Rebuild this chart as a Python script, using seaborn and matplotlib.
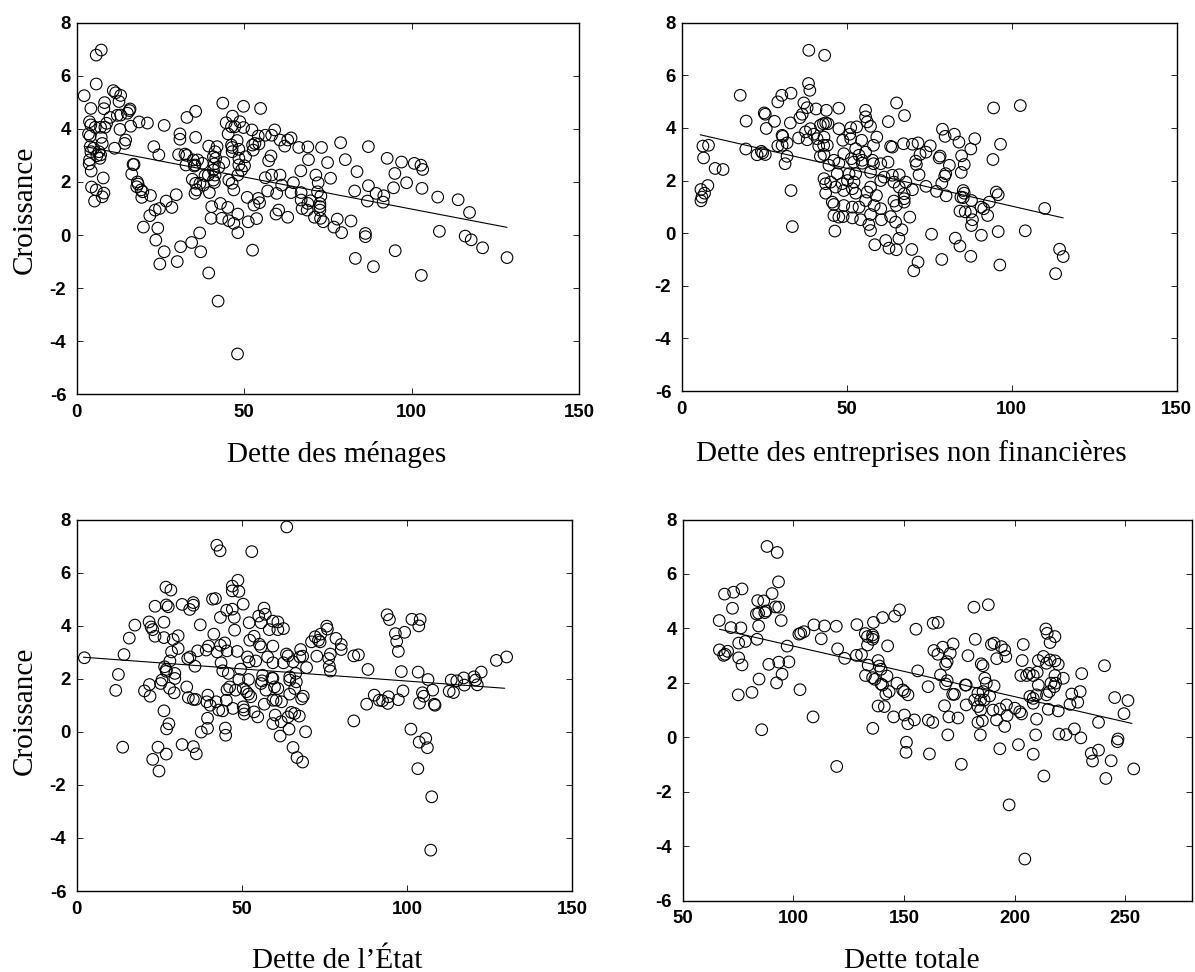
import matplotlib
matplotlib.use("Agg")
import matplotlib.pyplot as plt
from matplotlib.transforms import Affine2D
import pandas as pd
import seaborn as sns

menages_x = [2.2,7.3,5.8,5.8,10.9,11.6,13.1,12.6,8.3,8.1,4.2,15.9,15.7,15.1,13.1,12.1,9.9,3.8,18.6,21.1,4.2,16.1,8.9,8.4,7.1,5.5,12.9,3.5,4.0,7.3,14.6,14.3,7.6,4.0,11.3,5,4.2,6.6,6.0,7.1,6.9,3.8,3.7,4.3,7.9,4.4,5.8,8.1,7.6,5.3,16.8,17.1,16.4,18.1,18.3,17.9,19.2,19.7,19.4,22,23,24.5,26.1,29.7,26.7,24.7,23.4,28.4,21.8,19.9,24.2,23.6,26.1,24.8,30,31,34.3,36.7,37,39.4,42.2,48,32.9,35.5,30.8,30.8,35.5,30.4,32.3,32.8,32.6,34.8,36.1,35.3,35.1,37.5,34.5,35.5,36.8,35.8,35.3,37.8,38.3,39.3,39.6,39.4,41.9,41.3,40.8,41.5,41.1,40.8,41.3,40.8,41.1,40.3,42.9,40.1,43.3,45.1,45.4,46.9,48.1,48.1,51.2,53.7,52.5,43.6,49.8,54.9,46.5,44.6,48.7,46.2,47.2,49.8,52.3,45.2,47.9,54.2,56.3,58.2,59.1,60.7,64,63,62.1,66.3,69,73.1,78.8,87.1,52.5,53.2,54.4,52.7,46.2,46.4,46.4,48.4,48.4,50.4,48.4,50.1,49.2,48.1,43.9,42.4,45.4,46.4,46.9,58,57.3,56.3,58.2,60.7,61.2,64.7,57,59.7,64,66.9,69.2,74.9,80.2,83.7,75.8,71.4,72.1,71.9,72.9,67,67,69.8,69,67.3,68.8,72.6,72.6,72.6,71,72.8,73.6,54.2,54.6,52.9,50.9,59.5,60.3,63,77.8,76.8,79.1,81.9,83,87.1,86.8,89.4,91.7,91.5,94.6,95,92.7,97,98.5,100.8,102.8,103.3,103.1,107.8,113.9,117.3,108.3,116,117.8,121.2,128.5,102.9,95.1,88.6,83.2,86.2,86.2]
menages_y = [5.25,6.97,6.78,5.69,5.44,5.36,5.26,5.03,4.99,4.76,4.77,4.75,4.69,4.59,4.52,4.51,4.43,4.27,4.26,4.22,4.15,4.10,4.21,4.06,4.06,4.06,3.98,3.81,3.73,3.68,3.58,3.45,3.45,3.33,3.27,3.27,3.14,3.14,2.99,3.02,2.89,2.83,2.68,2.41,2.15,1.81,1.70,1.58,1.44,1.28,2.66,2.66,2.30,2.0,1.92,1.82,1.70,1.63,1.42,1.49,3.33,3.02,4.13,1.52,1.28,1.0,.94,1.04,.73,.3,.26,-.19,-.63,-1.09,-1.0,-.44,-.28,.08,-.63,-1.43,-2.49,-4.48,4.43,4.66,3.81,3.61,3.68,3.03,3.05,3.0,2.64,2.83,2.83,2.64,2.6,2.7,2.1,1.95,1.95,1.7,1.57,1.88,2.24,2.26,1.6,3.35,3.33,3.14,2.95,2.89,2.68,2.45,2.26,2.07,1.98,1.07,1.19,.63,.63,1.04,.54,.44,.79,.09,.5,.62,-.57,4.97,4.85,4.77,4.48,4.23,4.27,4.08,4.08,4.05,3.96,3.81,3.56,3.73,3.76,3.76,3.96,3.58,3.66,3.58,3.35,3.30,3.32,3.3,3.48,3.33,3.39,3.45,3.43,3.2,3.39,3.3,3.14,3.23,2.89,2.95,2.64,2.61,2.45,2.26,2.73,2.55,2.07,1.95,1.70,2.98,2.8,2.16,2.26,2.26,1.88,1.97,1.66,1.57,1.6,2.42,2.84,2.73,2.84,2.39,2.14,2.26,1.97,1.63,1.47,1.6,1.32,1.29,1.19,1.0,.94,1.19,1.07,.94,.67,.63,.5,1.38,1.22,1.13,1.42,.79,.94,.67,.6,.3,.09,.53,1.66,1.86,1.28,1.57,1.48,1.24,1.78,2.32,2.89,2.75,1.97,2.7,2.63,2.47,1.76,1.43,1.33,.85,.14,-.04,-.18,-.48,-.85,-1.52,-.59,-1.19,-.88,.06,-.06]
menages_fit_x = [2.2, 128.5]
menages_fit_y = [3.34, 0.29]

entreprises_x = [38.5,43.3,38.4,38.8,17.7,33.1,30.3,29.1,37,38,40.7,43.8,47.6,25,25.3,36.5,35.8,19.5,28.1,32.9,25.6,42,42.9,43.6,44.3,47.6,39,37.5,38,35.4,40,30.4,30.6,30.4,29.1,31.9,6.4,8.1,6.6,10.1,12.5,7.9,5.8,6.9,6.1,5.8,19.4,22.8,24.1,24.5,25.3,31.9,31.3,33.1,33.5,41,43.1,41.5,43,44.1,42,43.1,44.6,46.1,47.6,49.1,51.2,53,55.7,55.7,56.2,57.2,59.1,48.8,50.9,51.2,54.5,58.1,52.7,55.7,51.4,52.1,53.7,54.7,54.7,57.8,58.1,60.3,62.5,62.6,65.1,67.5,63.3,63.8,67.2,69.9,71.6,75.3,74,72.2,70.9,71.1,71.9,50.7,52.7,57.2,47.1,43.1,43.6,45.1,43.6,46.6,48.6,50.2,52.2,49.1,51.7,52.7,57.2,56.2,59,60.3,61.3,63.8,65.9,64.3,67.9,65.9,67.4,67.4,67.4,69.9,64.3,65,45.6,46.1,49.1,51.7,53.7,55.7,58.3,60.3,46.1,47.6,48.9,51.7,54.2,57.2,60.5,63.3,64.8,69.1,56.7,57.2,46.4,66.7,61.8,58.5,62.8,65,65.8,69.7,71.6,70.3,75.7,78.8,82.9,84.3,87.6,90.8,95.9,96.4,104.1,114.5,115.6,113.3,110,102.6,94.5,96.6,94.3,88.8,87.6,84,82.6,79,79.8,84.8,85.6,84.7,78.3,78,81.1,80,79.7,78.8,74,77.2,80.1,85.3,85.6,84.6,85.3,87.8,84.3,85.9,87.6,88.1,87.8,90.7,91.5,93.2,92.7,95.3,95.9]
entreprises_y = [6.95,6.76,5.69,5.43,5.24,5.32,5.24,4.99,4.95,4.77,4.72,4.67,4.75,4.57,4.52,4.52,4.39,4.26,4.25,4.19,3.98,4.1,4.16,4.19,4.16,3.97,3.97,3.85,3.55,3.62,3.76,3.72,3.68,3.34,3.32,3.43,3.31,3.34,2.86,2.46,2.42,1.81,1.66,1.52,1.37,1.23,3.2,2.98,3.11,3.05,2.99,2.92,2.64,1.62,.25,3.59,3.65,3.31,3.34,3.34,2.92,2.99,2.58,2.77,2.66,3.02,4.01,4.04,4.67,4.42,4.23,4.06,3.65,3.53,3.76,3.59,3.53,3.34,3.21,3.08,2.83,2.7,2.96,2.77,2.66,2.77,2.64,2.64,2.7,4.24,4.95,4.47,3.3,3.27,3.4,3.38,3.43,3.32,3.08,2.99,2.74,2.61,2.22,2.26,2.26,2.32,2.26,2.07,1.88,1.94,1.52,1.75,1.88,2,1.94,1.62,1.69,1.52,1.75,1.56,1.43,2.0,2.13,2.2,2.22,1.94,1.94,1.75,1.5,1.31,1.18,1.65,1.22,1.05,1.18,1.09,1.05,.99,.99,1.24,1.05,.93,.67,.61,.63,.58,.51,.71,.51,.63,.42,.61,.33,.1,.08,.13,-.28,-.44,-.57,-.63,-.2,-.62,-1.1,-1.43,-.04,-1,-.19,-.49,-.88,-.08,.06,-1.21,.09,-.61,-.89,-1.54,.94,4.85,4.76,3.38,2.8,3.59,3.2,3.46,3.76,3.95,3.68,2.94,2.61,2.31,2.93,2.86,2.58,2.26,2.17,1.9,1.78,1.59,1.42,1.62,1.52,1.37,1.35,1.24,.84,.81,.8,.51,.29,.99,.93,1.18,.67,1.56,1.46]
entreprises_fit_x = [5.6, 115.6]
entreprises_fit_y = [3.74, 0.58]

etat_x = [2.3,63.6,42.4,43.4,53,48.8,47.1,47.1,49.1,27,28.5,50.4,41.1,42,23.7,27.1,27.7,31.9,35.3,35.3,34.2,45.4,47.1,43.5,47.7,56.7,57.1,55.1,52.2,55.8,59.4,60.9,58.3,60.9,62.6,21.9,22.5,23,26.4,17.6,15.9,14.3,23.7,26.4,29.2,30.7,37.4,41.5,47.8,53.7,52.4,59.4,55.3,55.8,44.8,43.5,39.9,39.2,36.6,42.5,45.5,48.6,30.7,28.7,28.2,33.6,34.3,35.8,26.6,27.1,27.1,29.7,29.7,25.8,25.4,22,28.1,29.5,20.5,22.2,12.6,11.8,33.3,33.8,35.3,36,39.7,39.4,40.4,42.2,43,44.2,39.6,39.6,37.7,26.4,27.9,27.2,31.9,35.3,36.2,24.6,27.1,23,24.9,13.9,45,45.1,43.7,44.2,45.9,49.6,49.1,52,51.7,52.2,54.2,57.8,59.4,63.5,64,62.6,65.5,67.8,68.4,67.6,69.6,66.3,64.5,56.3,56.1,59.1,59.4,59.9,60.9,55.8,57.3,64.5,66.5,66,64.5,68.6,68.1,45.5,46.3,48.1,50.4,51.4,52,52.7,45.3,47.3,50.4,50.7,50.7,53.7,54.8,56.8,59.4,60.4,62,60.1,59.4,61.9,64.3,61.6,69.3,64,65,66,67.4,65.5,66.7,68.4,72.2,71.1,73.2,73.7,73.9,75.7,75.9,72.7,76.8,76.3,76.5,76.8,78.5,80.1,80.1,83.9,85.3,88.2,83.9,87.8,90.1,91.6,92.6,94.2,94.4,97.4,98.8,98.3,94,94.7,96.5,99.3,96.9,97.4,101.5,104,103.6,103.4,106.4,107.8,104.7,105.1,103.8,108.3,108.5,101.2,105.7,103.7,106.2,103.3,107.5,107.2,113.4,115.1,112.8,114.1,117.2,117.4,120.3,120.8,121.3,122.5,127.1,130.2]
etat_y = [2.79,7.72,7.03,6.82,6.79,5.71,5.49,5.31,5.29,5.45,5.34,4.81,5,5.02,4.73,4.78,4.71,4.8,4.87,4.77,4.61,4.58,4.62,4.31,4.31,4.66,4.43,4.36,4.11,4.11,4.17,4.14,3.85,3.85,3.89,4.14,3.95,3.85,4.13,4.02,3.53,2.91,3.6,3.55,3.48,3.62,4.03,3.68,3.83,3.6,3.45,3.23,3.3,3.2,3.35,3.26,3.23,3.08,3.05,3.01,3.05,3.03,3.14,3.01,2.67,2.76,2.82,2.47,2.45,2.35,2.28,2.2,2.01,1.95,1.82,1.78,1.64,1.47,1.54,1.34,2.16,1.56,1.69,1.29,1.22,1.22,1.38,1.13,1,1.13,.82,.79,.51,.13,-.01,.79,.3,.11,-.48,-.56,-.83,-.58,-.84,-1.04,-1.48,-.58,.14,-.13,2.6,2.3,2.2,2.36,1.97,1.97,2.82,2.64,2.67,2.82,2.6,2.93,2.86,2.6,2.64,3.1,2.85,2.82,2.42,2.2,2.07,2.13,1.92,2.03,2.01,1.69,1.63,1.82,1.57,1.95,1.88,1.63,1.42,1.34,1.24,1.59,1.69,1.57,1.63,1.51,1.42,1.32,1.19,.88,.94,.82,.67,.75,.56,1.04,1.19,1.19,1.13,.63,.31,.38,.1,-.16,0,.56,.73,.69,.59,-.59,-.97,-1.14,3.58,3.39,3.45,3.39,3.68,3.98,3.87,2.85,2.93,2.76,2.47,2.29,3.52,3.29,3.1,2.86,2.9,2.35,.41,1.04,1.38,1.19,1.17,1.07,1.32,1.21,1.54,2.27,4.41,4.23,3.7,3.75,3.41,3.03,4.24,4.23,3.99,2.25,1.97,1.57,1.47,1.34,1.08,1.04,1,.1,-.25,-.39,-.6,-1.39,-2.45,-4.46,1.95,1.92,1.53,1.48,2.03,1.76,2.07,1.95,1.77,2.25,2.69,2.82]
etat_fit_x = [2.0, 129.6]
etat_fit_y = [2.81, 1.64]

totale_x = [88.1,92.7,93.3,76.8,73,68.9,90.4,83.9,86.6,72.5,91.9,93.4,83.3,84.3,87.1,87.7,66.5,94.5,84.3,71.8,76.3,83.6,78.3,75.3,97.2,66.6,70.3,68.5,69.2,75.3,76.8,88.9,93.4,98,94.9,84.5,92.4,81.3,75.1,103,85.7,108.9,119.6,102.5,103.3,104.8,109.3,114.1,119.4,112.6,120,123.2,128.7,132.5,136.2,140.3,145.8,148,155.4,133.5,135.8,136.1,135.8,133.5,142.6,128.5,130.8,138.3,133.8,138.8,139.6,132.6,135.8,136.8,142.3,139.6,140.3,146.8,143.3,141.8,149.4,150.2,151.8,156.2,160.9,138.3,141.1,145.3,150.2,151.7,154.7,161,163,135.9,151.1,150.9,161.5,175.9,169.8,170.3,174.4,168.3,172.8,172,163.2,165.4,163.5,165.3,167.5,170.9,172.2,169.5,168.8,166.5,169.5,168.8,178.9,182.2,181.6,188.1,178.1,177.7,178.1,184.9,185.7,186.5,187.2,190.7,183.4,185.7,188.7,181.9,184.6,186.2,183.4,184.6,190.2,193.3,196.3,200.1,202.3,203.1,196.6,191.8,183.4,185.4,184.5,195.5,193.3,201.7,208.4,213.2,197.5,204.6,189.5,190.7,194,195.5,196,191.9,203.9,203.4,202.8,205.4,206.6,208.4,210.2,210.7,213,214.4,216,218.2,219.7,214.1,214.7,218.2,216,218.2,222,216.4,218.5,217.9,215.7,214.4,210.7,209.9,206.9,208.4,208.4,215.2,219.7,209.9,209.5,220,223.2,227,229.9,230.3,229.6,225.8,228.5,225,237.9,240.6,245.2,251.2,249.4,246.7,246.4,234.6,237.9,235.2,243.6,241.2,253.8]
totale_y = [7.01,6.79,5.71,5.45,5.33,5.26,5.28,5.02,5.01,4.74,4.79,4.78,4.53,4.56,4.58,4.64,4.29,4.29,4.09,4.03,4.02,3.6,3.52,3.46,3.35,3.21,3.16,3.01,3.05,2.92,2.66,2.68,2.76,2.77,2.32,2.14,2,1.65,1.56,1.75,.28,.75,-1.07,3.79,3.82,3.88,4.13,4.09,4.08,3.62,3.25,2.9,4.14,3.81,4.22,4.4,4.45,4.68,3.97,3.7,3.76,3.68,3.6,3.39,3.36,3.01,3.04,2.82,2.65,2.62,2.5,2.27,2.19,2.13,2.25,1.96,1.92,1.99,1.68,1.59,1.74,1.68,1.56,2.44,1.86,1.15,1.13,.75,.82,.5,.64,.63,.55,.33,-.18,-.55,-.61,-.99,.09,.75,.71,1.16,1.58,1.58,4.19,4.22,3.19,3.05,3.31,3.09,3.43,2.78,2.68,2.29,2.08,1.96,3,3.6,4.78,4.87,1.92,1.92,1.19,2.7,2.63,2.17,1.99,1.89,1.62,1.68,1.52,1.37,1.37,1.37,1.13,1,1,1.04,1.19,1.07,.94,.86,.8,.64,.55,.61,.09,.4,-.42,-.27,-.62,-1.42,-2.48,-4.47,3.41,3.46,3.33,3.21,2.97,2.89,3.41,2.82,2.27,2.27,2.35,2.27,2.39,2.82,2.97,2.72,2.84,2.81,2.68,3.98,3.82,3.7,3.48,2.27,2.17,1.99,1.99,1.86,1.68,1.56,1.92,1.56,1.5,1.43,1.25,1.03,.97,.67,.09,.12,.1,.31,-.02,2.34,1.68,1.59,1.29,1.21,.55,2.63,1.46,1.35,.87,-.06,-.16,-.59,-.47,-.87,-.86,-1.51,-1.16]
totale_fit_x = [66.6, 253.0]
totale_fit_y = [3.97, 0.51]

titles = ["Dette des ménages", "Dette des entreprises non financières", "Dette de l’État", "Dette totale"]
y_title = "Croissance"
y_ticks = [-6, -4, -2, 0, 2, 4, 6, 8]

sns.set_theme(style="white")
plt.rcParams["axes.unicode_minus"] = False
W, H = 1195, 972
fig = plt.figure(figsize=(W / 100, H / 100), dpi=100, facecolor="white")

panels = [
    (menages_x, menages_y, menages_fit_x, menages_fit_y, titles[0], (0, 150), [0, 50, 100, 150],
     (76.8, 579, 22.7, 394.3), (336.7, 462), 210),
    (entreprises_x, entreprises_y, entreprises_fit_x, entreprises_fit_y, titles[1], (0, 150), [0, 50, 100, 150],
     (681.8, 1176.7, 22.7, 391), (911.5, 461), None),
    (etat_x, etat_y, etat_fit_x, etat_fit_y, titles[2], (0, 150), [0, 50, 100, 150],
     (76.8, 572, 519.5, 891), (337, 968), 710.5),
    (totale_x, totale_y, totale_fit_x, totale_fit_y, titles[3], (50, 280), [50, 100, 150, 200, 250],
     (682.7, 1191.7, 519.5, 900.7), (912, 968), None),
]

for xs, ys, fx, fy, title, xlim, xticks, box, xlab_pos, ylab_y in panels:
    l, r, t, b = box
    ax = fig.add_axes([l / W, 1 - b / H, (r - l) / W, (b - t) / H])
    df = pd.DataFrame({"x": xs, "y": ys})
    sns.scatterplot(data=df, x="x", y="y", ax=ax, marker="o", s=70, facecolor="none",
                    edgecolor="black", linewidth=0.8, clip_on=False, zorder=3)
    fit = pd.DataFrame({"x": fx, "y": fy})
    sns.lineplot(data=fit, x="x", y="y", ax=ax, color="black", linewidth=0.8, zorder=2, errorbar=None)
    ax.set_xlim(*xlim)
    ax.set_ylim(-6, 8)
    ax.set_xticks(xticks)
    ax.set_yticks(y_ticks)
    ax.tick_params(axis="x", direction="in", length=4.1, width=0.6, top=True, bottom=True, color="black", pad=7)
    ax.tick_params(axis="y", direction="in", length=4.1, width=0.6, left=True, right=True, color="black", pad=4.3)
    for lab in ax.get_xticklabels() + ax.get_yticklabels():
        lab.set_fontfamily("Liberation Sans")
        lab.set_fontweight("bold")
        lab.set_fontsize(13.4)
        lab.set_color("black")
    for tick, val in zip(ax.yaxis.get_major_ticks(), y_ticks):
        if val < 0:
            tick.label1.set_transform(tick.label1.get_transform() + Affine2D().translate(-4.5, 0))
    for s in ax.spines.values():
        s.set_visible(True)
        s.set_color("black")
        s.set_linewidth(1.0)
    ax.set_xlabel(title, family="Liberation Serif", fontsize=21.1, color="black", va="baseline")
    ax.xaxis.set_label_coords((xlab_pos[0] - l) / (r - l), (b - xlab_pos[1]) / (b - t))
    if ylab_y is not None:
        ax.set_ylabel(y_title, family="Liberation Serif", fontsize=21.1, color="black", va="bottom")
        ax.yaxis.set_label_coords((38 - l) / (r - l), (b - ylab_y) / (b - t))
    else:
        ax.set_ylabel("")

fig.savefig("out.png", dpi=100, facecolor="white")
